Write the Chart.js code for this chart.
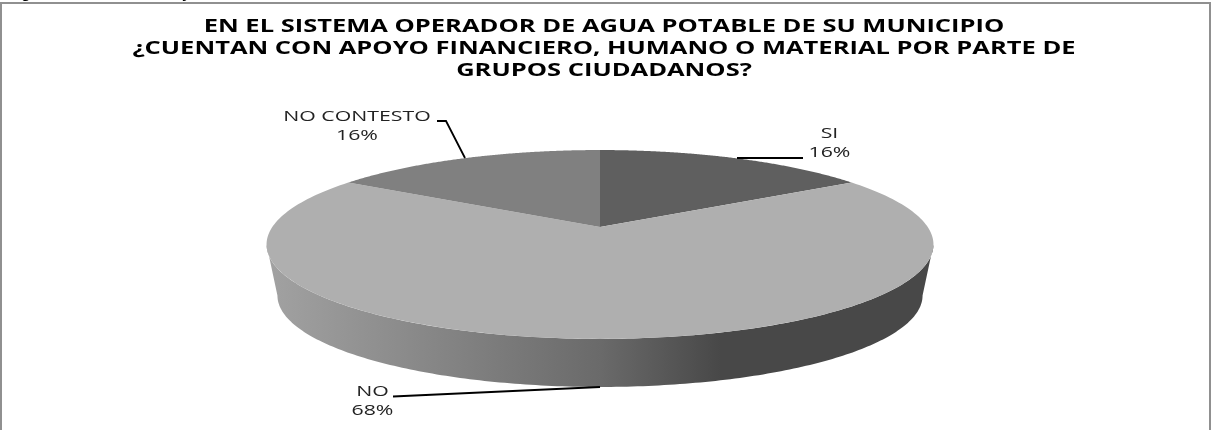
<!DOCTYPE html>
<html>
<head>
<meta charset="utf-8">
<style>
  html, body { margin: 0; padding: 0; background: #fff; overflow: hidden; }
  canvas { display: block; }
</style>
<script src="https://cdn.jsdelivr.net/npm/chart.js@4/dist/chart.umd.js"></script>
</head>
<body>
<canvas id="pieChart" width="1211" height="430"></canvas>
<script>
"use strict"

const categories = ["SI", "NO", "NO CONTESTO"];
const percentages = [16, 68, 16];
const sliceColors = ["#5f5f5f", "#afafaf", "#808080"];
const titleLines = [
    "EN EL SISTEMA OPERADOR DE AGUA POTABLE DE SU MUNICIPIO",
    "¿CUENTAN CON APOYO FINANCIERO, HUMANO O MATERIAL POR PARTE DE",
    "GRUPOS CIUDADANOS?"
];

// tilted disc, perspective worked out from the rim points in the picture
const disc = { cx: 600, cy: 227, a: 327.7, b: 91.2, k: 0.185 };
const base = { cx: 600, cy: 278.6, a: 317, b: 88.3, k: 0.185 };

function project(d, angle) {
    const w = 1 - d.k * Math.sin(angle);
    return [d.cx + d.a * Math.cos(angle) / w, d.cy + d.b * Math.sin(angle) / w];
}

function traceRim(ctx, d, from, to) {
    const steps = 200;
    for (let i = 0; i <= steps; i++) {
        const p = project(d, from + (to - from) * i / steps);
        ctx.lineTo(p[0], p[1]);
    }
}

// the original text is stretched sideways, so draw it the same way
function wideText(ctx, text, x, y, stretch) {
    ctx.save();
    ctx.translate(x, y);
    ctx.scale(stretch, 1);
    ctx.fillText(text, 0, 0);
    ctx.restore();
}

const labelPlacement = [
    { x: 829.5, y: 134, line: [[737, 158], [803, 158]] },
    { x: 372.5, y: 392, line: [[393, 396.5], [600, 387]] },
    { x: 357, y: 117, line: [[437, 121], [446, 121], [465, 158]] }
];

const tiltedPie = {
    id: "tiltedPie",
    beforeDatasetDraw(chart, args) {
        const ctx = chart.ctx;
        const arcs = chart.getDatasetMeta(args.index).data;

        // side wall, front half only
        const left = Math.PI - Math.asin(disc.k);
        const right = Math.asin(disc.k);
        const wall = ctx.createLinearGradient(267, 0, 934, 0);
        wall.addColorStop(0, "#a2a2a2");
        wall.addColorStop(0.5, "#6a6a6a");
        wall.addColorStop(0.68, "#484848");
        wall.addColorStop(1, "#484848");
        ctx.save();
        ctx.beginPath();
        traceRim(ctx, disc, right, left);
        traceRim(ctx, base, left, right);
        ctx.closePath();
        ctx.fillStyle = wall;
        ctx.fill();

        // top face, one path per arc from the angles the controller computed
        arcs.forEach((arc, i) => {
            ctx.beginPath();
            ctx.moveTo(disc.cx, disc.cy);
            traceRim(ctx, disc, arc.startAngle, arc.endAngle);
            ctx.closePath();
            ctx.fillStyle = sliceColors[i];
            ctx.fill();
        });
        ctx.restore();
        return false;
    },
    afterDatasetsDraw(chart) {
        const ctx = chart.ctx;
        ctx.save();

        // frame, no bottom edge in the original
        ctx.strokeStyle = "#909090";
        ctx.lineWidth = 2;
        ctx.beginPath();
        ctx.moveTo(1, 430);
        ctx.lineTo(1, 3);
        ctx.lineTo(1210, 3);
        ctx.lineTo(1210, 430);
        ctx.stroke();

        // cut off caption line above the frame
        ctx.fillStyle = "#000";
        ctx.font = "bold 16px 'Liberation Sans'";
        ctx.textAlign = "left";
        ctx.textBaseline = "alphabetic";
        ctx.fillText("g", 21, -2);
        ctx.fillText("y", 182, -2);

        // source is a soft upscaled scan, take the edge off the text
        ctx.filter = "blur(0.4px)";
        ctx.textAlign = "center";
        ctx.textBaseline = "middle";
        ctx.font = "bold 17px 'Open Sans'";
        titleLines.forEach((line, i) => wideText(ctx, line, 604, 27 + i * 22, 1.5));

        ctx.strokeStyle = "#000";
        ctx.lineWidth = 1.8;
        ctx.fillStyle = "#222";
        ctx.font = "14px 'Open Sans'";
        labelPlacement.forEach((lp, i) => {
            ctx.beginPath();
            lp.line.forEach((p, j) => j ? ctx.lineTo(p[0], p[1]) : ctx.moveTo(p[0], p[1]));
            ctx.stroke();
            wideText(ctx, categories[i], lp.x, lp.y, 1.52);
            wideText(ctx, percentages[i] + "%", lp.x, lp.y + 19, 1.52);
        });
        ctx.restore();
    }
};

new Chart(document.getElementById("pieChart"), {
    type: "pie",
    data: {
        labels: categories,
        datasets: [{ data: percentages, backgroundColor: sliceColors, borderWidth: 0 }]
    },
    options: {
        responsive: false,
        animation: false,
        plugins: {
            legend: { display: false },
            tooltip: { enabled: false },
            title: { display: false }
        }
    },
    plugins: [tiltedPie]
});
</script>
</body>
</html>
